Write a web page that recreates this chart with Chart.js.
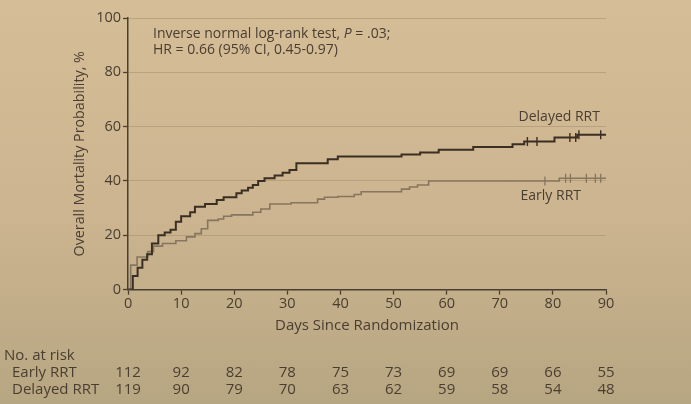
<!DOCTYPE html>
<html>
<head>
<meta charset="utf-8">
<script src="https://cdn.jsdelivr.net/npm/chart.js@4"></script>
<style>
  html, body { margin:0; padding:0; }
  body { width:691px; height:404px; background: linear-gradient(180deg, #d5bd97 0%, #cbb48f 55%, #b7a682 100%); }
  #wrap { position:relative; width:691px; height:404px; }
</style>
</head>
<body>
<div id="wrap"><canvas id="km"></canvas></div>
<script>
// ------------------ DATA ------------------
const earlyDays   = [0, 0.5, 1.7, 3.7, 4.8, 6.5, 9, 11, 12.6, 13.8, 15, 17, 18, 19.5, 23.5, 25, 26.7, 30.7, 35.7, 37, 39.5, 42.6, 43.9, 51.5, 53, 54.5, 56.6, 81.2, 90];
const earlyValues = [0, 9, 12, 14, 16, 17, 18, 19.4, 20.6, 22.4, 25.5, 26, 27, 27.5, 28.5, 29.7, 31.5, 32, 33.3, 34, 34.3, 35, 36, 37, 37.8, 38.5, 40, 41, 41];

const delayedDays   = [0, 0.9, 1.8, 2.7, 3.6, 4.5, 5.7, 6.9, 8, 9, 10, 11.7, 12.6, 14.5, 16.7, 18, 20.4, 21.4, 22.6, 23.5, 24.5, 25.7, 27.6, 29.1, 30.4, 31.7, 37.6, 39.5, 51.5, 55, 58.5, 65, 72.4, 74.6, 80.3, 84.6, 90];
const delayedValues = [0, 5, 8, 11, 13, 17, 20, 21, 22, 25, 27, 28.5, 30.5, 31.5, 33, 34, 35.5, 36.5, 37.5, 38.5, 40, 41, 42, 43, 44, 46.5, 48, 49, 49.7, 50.5, 51.5, 52.5, 53.5, 54.5, 56, 57, 57];

const earlyCensored   = [78.5, 82.4, 83.3, 86.3, 88, 89];
const delayedCensored = [75.2, 77, 83.2, 84.3, 84.9, 89];

const riskDays     = [0, 10, 20, 30, 40, 50, 60, 70, 80, 90];
const earlyRisk    = [112, 92, 82, 78, 75, 73, 69, 69, 66, 55];
const delayedRisk  = [119, 90, 79, 70, 63, 62, 59, 58, 54, 48];

// ------------------ STYLE ------------------
const FONT = "'Open Sans', 'DejaVu Sans', sans-serif";
const ink = "#4a3e31";
const darkLine = "#3b2f23";
const lightLine = "#86765d";

function pts(xs, ys){ return xs.map((x,i)=>({x, y:ys[i]})); }

// value of a step curve at time t
function stepAt(xs, ys, t){
    let v = ys[0];
    for(let i=0;i<xs.length;i++){ if(xs[i] <= t) v = ys[i]; }
    return v;
}
function censorPts(times, xs, ys){ return times.map(t=>({x:t, y:stepAt(xs, ys, t)})); }

// ------------------ TEXT PLUGIN ------------------
const textPlugin = {
    id: "kmText",
    afterDraw(chart){
        const ctx = chart.ctx;
        const xs = chart.scales.x, ys = chart.scales.y;
        ctx.save();
        ctx.fillStyle = ink;
        ctx.textBaseline = "middle";

        // annotation
        ctx.textAlign = "left";
        ctx.font = "14px " + FONT;
        const ax = xs.getPixelForValue(4.7);
        const l1a = "Inverse normal log-rank test, ";
        ctx.fillText(l1a, ax, ys.getPixelForValue(94));
        let w = ctx.measureText(l1a).width;
        ctx.font = "italic 14px " + FONT;
        ctx.fillText("P", ax + w, ys.getPixelForValue(94));
        w += ctx.measureText("P").width;
        ctx.font = "14px " + FONT;
        ctx.fillText(" = .03;", ax + w, ys.getPixelForValue(94));
        ctx.fillText("HR = 0.66 (95% CI, 0.45-0.97)", ax, ys.getPixelForValue(88.2));

        // curve labels
        ctx.font = "14px " + FONT;
        ctx.textAlign = "center";
        ctx.fillText("Delayed RRT", xs.getPixelForValue(81.2), ys.getPixelForValue(63.5));
        ctx.fillText("Early RRT", xs.getPixelForValue(79.6), ys.getPixelForValue(34.3));

        // at risk table
        ctx.font = "15px " + FONT;
        ctx.textAlign = "left";
        ctx.fillText("No. at risk", 4, 356);
        ctx.fillText("Early RRT", 12, 373);
        ctx.fillText("Delayed RRT", 12, 390);
        ctx.textAlign = "center";
        riskDays.forEach((d,i)=>{
            const px = xs.getPixelForValue(d);
            ctx.fillText(String(earlyRisk[i]), px, 373);
            ctx.fillText(String(delayedRisk[i]), px, 390);
        });
        ctx.restore();
    }
};

// ------------------ CHART ------------------
new Chart(document.getElementById("km"), {
    type: "line",
    data: {
        datasets: [
            {label:"Delayed RRT", data:pts(delayedDays, delayedValues), stepped:true,
             borderColor:darkLine, borderWidth:2, pointRadius:0, fill:false},
            {label:"Early RRT", data:pts(earlyDays, earlyValues), stepped:true,
             borderColor:lightLine, borderWidth:1.6, pointRadius:0, fill:false},
            {label:"Delayed censored", data:censorPts(delayedCensored, delayedDays, delayedValues), showLine:false,
             pointStyle:"line", rotation:90, pointRadius:4.5, borderColor:darkLine, borderWidth:1.4},
            {label:"Early censored", data:censorPts(earlyCensored, earlyDays, earlyValues), showLine:false,
             pointStyle:"line", rotation:90, pointRadius:4.5, borderColor:lightLine, borderWidth:1.3}
        ]
    },
    options: {
        responsive: true,
        maintainAspectRatio: false,
        animation: false,
        layout: { padding: { left: 71, right: 85, top: 18, bottom: 69 } },
        plugins: { legend:{display:false}, tooltip:{enabled:false} },
        scales: {
            x: {
                type: "linear", min: 0, max: 90,
                ticks: { stepSize: 10, color: ink, font:{family:FONT, size:14.5}, padding: 1 },
                grid: { drawOnChartArea:false, tickLength:5, tickColor:ink, tickWidth:1.3 },
                border: { color: ink, width: 1.5 },
                title: { display:true, text:"Days Since Randomization", color:ink,
                         font:{family:FONT, size:15}, padding:{top:3, bottom:0} }
            },
            y: {
                min: 0, max: 100,
                ticks: { stepSize: 20, color: ink, font:{family:FONT, size:14.5}, padding: 2 },
                grid: { color:"rgba(140,120,90,0.35)", lineWidth:1, tickLength:5, tickColor:ink, tickWidth:1.3 },
                border: { color: ink, width: 1.5 },
                title: { display:true, text:"Overall Mortality Probability, %", color:ink,
                         font:{family:FONT, size:14.3}, padding:{top:0, bottom:6} }
            }
        }
    },
    plugins: [textPlugin]
});
</script>
</body>
</html>
